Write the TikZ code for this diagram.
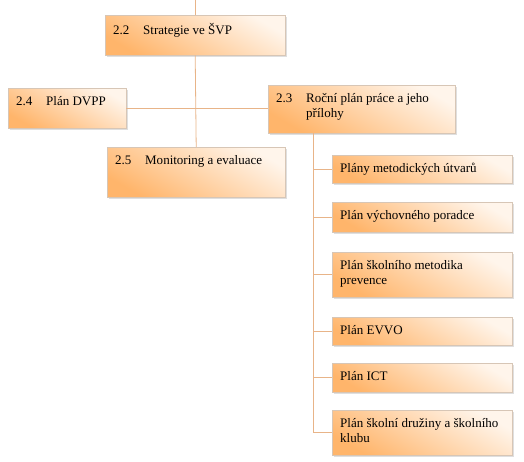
\documentclass[tikz,border=0pt]{standalone}
\usepackage{fontspec}
\setmainfont{Liberation Serif}
\usetikzlibrary{positioning,calc,shadows}
\definecolor{linkc}{RGB}{232,180,136}
\definecolor{boxedge}{RGB}{215,198,182}
\newcommand\cellbox[3]{\parbox[t][#2][t]{#1}{\raggedright #3}}
\newcommand\secno[1]{\makebox[30pt][l]{#1}}

\begin{document}
\begin{tikzpicture}[x=1pt,y=-1pt,
  sbox/.style={draw=boxedge, line width=0.4pt, anchor=north west,
    inner xsep=8pt, inner ysep=8pt,
    top color=orange!8, bottom color=orange!58, shading angle=-30,
    drop shadow={shadow xshift=1.5pt, shadow yshift=-1.5pt, opacity=0.25},
    font=\fontsize{13}{15}\selectfont},
  link/.style={draw=linkc, line width=0.8pt}]
\useasboundingbox (0,0) rectangle (524,462);

% Main sections
\node[sbox] (s22) at (105,15) {\cellbox{164pt}{24pt}{\secno{2.2}Strategie ve ŠVP}};
\node[sbox] (s24) at (8,88) {\cellbox{102pt}{24pt}{\secno{2.4}Plán DVPP}};
\node[sbox] (s23) at (268,85) {\cellbox{171pt}{32pt}{\secno{2.3}\parbox[t]{141pt}{Roční plán práce a jeho\\přílohy}}};
\node[sbox] (s25) at (107,147) {\cellbox{162pt}{34pt}{\secno{2.5}Monitoring a evaluace}};

% Annexes of 2.3
\foreach \y/\h/\t [count=\i] in {
  155/12/{Plány metodických útvarů},
  202/14/{Plán výchovného poradce},
  252/29/{Plán školního metodika\\prevence},
  317/12/{Plán EVVO},
  363/13/{Plán ICT},
  410/29/{Plán školní družiny a školního\\klubu}} {
  \node[sbox] (c\i) at (332,\y) {\cellbox{164pt}{\h pt}{\t}};
}

% Connectors
\coordinate (topend) at (s22.north |- 0,0);
\coordinate (trunk) at ($(s23.south west)+(45,0)$);
\draw[link] (topend) -- (s22.north);
\draw[link] (s22.south) -- (s25.north);
\draw[link] (s24.east) -- (s23.west |- s24.east);
\draw[link] ($(s24.south east)+(-8,0)$) -- ($(s24.south east)+(-8,0)$ |- s25.north);
\draw[link] ($(s23.south west)+(8,0)$) -- ($(s23.south west)+(8,0)$ |- s25.north);
\foreach \i in {1,...,6}
  \draw[link] (trunk) |- (c\i.west);
\end{tikzpicture}
\end{document}
